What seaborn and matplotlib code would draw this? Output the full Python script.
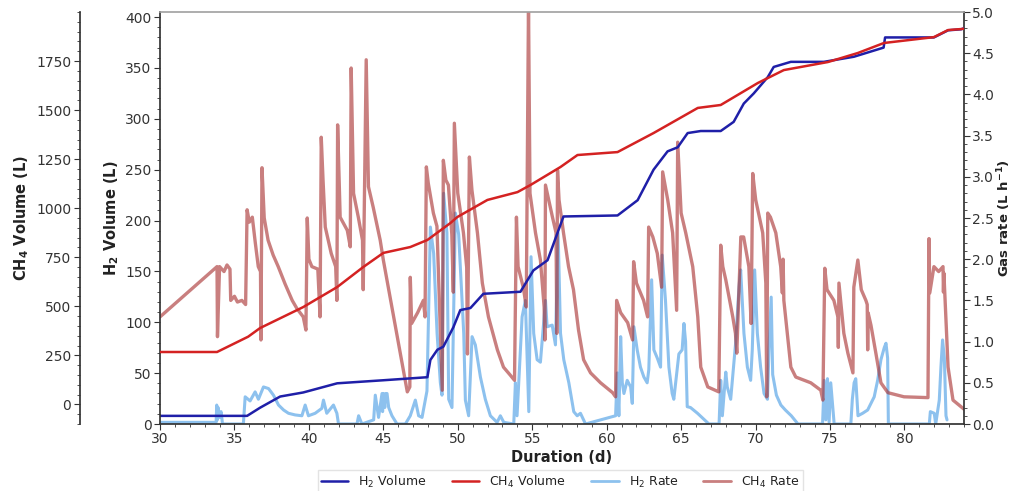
import matplotlib
matplotlib.use("Agg")
import matplotlib.pyplot as plt
import seaborn as sns
from matplotlib.ticker import MultipleLocator, AutoMinorLocator, FormatStrFormatter
from matplotlib.lines import Line2D

# ---------------- data ----------------
h2_vol_day = [30.0, 35.85, 36.72, 38.07, 39.62, 41.9, 45.0, 47.96, 48.16, 48.63,
              49.03, 49.7, 50.17, 50.85, 51.72, 54.21, 55.08, 56.03, 57.1, 60.73,
              62.08, 63.15, 64.09, 64.77, 65.44, 66.32, 67.66, 68.53, 69.21, 69.88,
              70.82, 71.22, 72.37, 74.59, 76.6, 78.6, 78.7, 81.98, 82.93, 83.8,
              84.0]
h2_vol = [8, 8, 16, 27, 31, 40, 43, 46, 63, 73,
          76, 95, 112, 114, 128, 130, 151, 161, 204, 205,
          220, 250, 268, 272, 286, 288, 288, 297, 315, 325,
          341, 351, 356, 356, 361, 370, 380, 380, 387, 388,
          389]

ch4_vol_day = [30.0, 33.83, 35.92, 36.72, 39.62, 41.9, 43.65, 45.0, 46.81, 47.96,
               49.5, 49.97, 51.99, 54.01, 54.88, 56.9, 58.04, 60.73, 63.15, 66.12,
               67.66, 70.15, 71.9, 74.86, 76.87, 78.62, 81.98, 82.93, 83.8, 84.0]
ch4_vol = [267, 267, 345, 389, 496, 598, 700, 772, 802, 838,
           924, 955, 1042, 1082, 1118, 1210, 1271, 1286, 1383, 1511,
           1526, 1638, 1704, 1745, 1791, 1842, 1872, 1908, 1913, 1915]

h2_rate_day = [30.0, 33.77, 33.81, 33.85, 33.9, 34.0, 34.1, 34.2, 35.6, 35.72,
               36.05, 36.39, 36.61, 36.95, 37.29, 37.62, 37.96, 38.3, 38.63, 39.08,
               39.53, 39.75, 39.97, 40.42, 40.87, 40.98, 41.2, 41.65, 41.88, 41.99,
               43.23, 43.34, 43.56, 44.35, 44.46, 44.68, 44.91, 44.95, 45.0, 45.1,
               45.15, 45.25, 45.36, 45.58, 45.92, 46.48, 46.81, 47.15, 47.37, 47.6,
               47.82, 47.93, 48.16, 48.38, 48.61, 48.83, 48.94, 49.05, 49.27, 49.39,
               49.61, 49.84, 50.06, 50.29, 50.4, 50.51, 50.73, 50.96, 51.18, 51.52,
               51.85, 52.19, 52.64, 52.86, 53.09, 53.76, 53.87, 53.98, 54.32, 54.54,
               54.77, 54.92, 55.1, 55.33, 55.55, 55.89, 56.0, 56.34, 56.56, 56.74,
               56.9, 57.12, 57.46, 57.79, 58.02, 58.24, 58.58, 60.6, 60.71, 60.82,
               60.94, 61.05, 61.16, 61.38, 61.61, 61.72, 61.83, 62.05, 62.27, 62.5,
               62.72, 62.83, 63.02, 63.17, 63.4, 63.62, 63.73, 63.95, 64.18, 64.4,
               64.51, 64.85, 65.07, 65.19, 65.3, 65.41, 65.63, 66.1, 66.87, 67.55,
               67.66, 67.77, 68.0, 68.1, 68.33, 68.66, 68.89, 69.0, 69.22, 69.45,
               69.67, 69.78, 69.94, 70.12, 70.34, 70.57, 70.8, 70.9, 71.05, 71.15,
               71.4, 71.7, 72.0, 72.4, 72.85, 74.5, 74.61, 74.72, 74.83, 74.94,
               75.05, 75.28, 76.4, 76.5, 76.62, 76.73, 76.88, 77.19, 77.53, 77.97,
               78.2, 78.42, 78.65, 78.76, 78.87, 78.92, 81.67, 81.74, 82.0, 82.1,
               82.34, 82.45, 82.56, 82.68, 82.79, 82.86]
h2_rate = [0.02, 0.02, 0.23, 0.05, 0.20, 0.08, 0.15, 0.00, 0.00, 0.33,
           0.28, 0.39, 0.30, 0.45, 0.43, 0.35, 0.23, 0.17, 0.13, 0.11,
           0.10, 0.23, 0.10, 0.13, 0.19, 0.29, 0.13, 0.23, 0.13, 0.00,
           0.00, 0.10, 0.00, 0.05, 0.35, 0.08, 0.37, 0.15, 0.37, 0.20,
           0.37, 0.37, 0.20, 0.10, 0.00, 0.00, 0.10, 0.29, 0.10, 0.08,
           0.29, 0.40, 2.39, 2.07, 1.10, 0.50, 0.35, 2.80, 2.32, 0.30,
           0.20, 2.56, 2.30, 1.50, 1.10, 0.29, 0.10, 1.06, 0.96, 0.57,
           0.30, 0.10, 0.02, 0.10, 0.02, 0.00, 0.50, 0.10, 1.30, 1.50,
           0.15, 2.03, 1.10, 0.78, 0.75, 1.50, 1.18, 1.20, 0.96, 2.32,
           1.10, 0.78, 0.50, 0.15, 0.10, 0.13, 0.00, 0.10, 0.62, 0.10,
           1.06, 0.50, 0.37, 0.53, 0.45, 0.25, 1.18, 0.90, 0.69, 0.57,
           0.50, 0.66, 1.75, 0.90, 0.80, 0.69, 2.05, 1.50, 0.69, 0.37,
           0.30, 0.85, 0.90, 1.22, 1.00, 0.21, 0.20, 0.13, 0.00, 0.00,
           0.53, 0.10, 0.63, 0.45, 0.30, 0.98, 1.67, 1.87, 1.10, 0.69,
           0.53, 0.90, 1.87, 1.10, 0.69, 0.37, 0.30, 0.90, 1.54, 0.60,
           0.35, 0.23, 0.17, 0.10, 0.00, 0.00, 0.53, 0.05, 0.55, 0.02,
           0.50, 0.00, 0.00, 0.30, 0.50, 0.55, 0.10, 0.13, 0.17, 0.33,
           0.53, 0.78, 0.93, 0.98, 0.80, 0.00, 0.00, 0.15, 0.13, 0.00,
           0.29, 0.69, 1.02, 0.80, 0.10, 0.05]

ch4_rate_day = [30.0, 33.83, 33.86, 34.0, 34.3, 34.5, 34.7, 34.75, 35.0, 35.2,
                35.5, 35.75, 35.85, 36.0, 36.2, 36.4, 36.6, 36.75, 36.78, 36.85,
                37.0, 37.26, 37.6, 37.94, 38.4, 38.88, 39.2, 39.62, 39.8, 39.89,
                40.0, 40.2, 40.6, 40.75, 40.83, 40.95, 41.1, 41.5, 41.8, 41.88,
                41.93, 42.1, 42.58, 42.78, 42.84, 43.0, 43.32, 43.6, 43.65, 43.85,
                44.0, 44.32, 44.79, 45.0, 46.61, 46.78, 46.81, 46.9, 47.3, 47.69,
                47.8, 47.89, 48.02, 48.36, 48.6, 48.96, 49.03, 49.2, 49.37, 49.6,
                49.7, 49.77, 50.0, 50.38, 50.6, 50.65, 50.78, 50.95, 51.32, 51.65,
                52.06, 52.66, 53.07, 53.54, 53.81, 53.94, 54.05, 54.41, 54.6, 54.75,
                54.85, 55.22, 55.55, 55.8, 55.85, 55.89, 56.36, 56.6, 56.65, 56.7,
                56.8, 57.1, 57.44, 57.77, 58.11, 58.45, 58.92, 59.59, 60.4, 60.6,
                60.67, 60.94, 61.41, 61.74, 61.81, 62.0, 62.48, 62.75, 62.82, 63.1,
                63.4, 63.69, 63.76, 64.1, 64.43, 64.7, 64.77, 65.0, 65.31, 65.78,
                66.12, 66.32, 66.79, 67.53, 67.66, 67.8, 68.0, 68.47, 68.65, 68.74,
                69.01, 69.2, 69.55, 69.7, 69.81, 70.01, 70.48, 70.69, 70.75, 70.82,
                71.0, 71.36, 71.69, 71.8, 71.85, 71.9, 72.37, 72.7, 73.71, 74.38,
                74.52, 74.65, 74.8, 75.26, 75.53, 75.56, 75.6, 75.93, 76.2, 76.54,
                76.6, 76.87, 77.1, 77.41, 77.5, 77.53, 77.56, 77.75, 78.08, 78.42,
                78.89, 79.97, 81.58, 81.65, 81.7, 81.98, 82.3, 82.59, 82.62, 82.65,
                82.93, 83.26, 83.8, 84.0]
ch4_rate = [1.30, 1.91, 1.06, 1.91, 1.85, 1.93, 1.88, 1.50, 1.55, 1.48,
            1.50, 1.45, 2.60, 2.45, 2.51, 2.20, 1.91, 1.85, 1.02, 3.11,
            2.50, 2.23, 2.05, 1.91, 1.70, 1.50, 1.40, 1.30, 1.14, 2.50,
            2.00, 1.91, 1.88, 1.30, 3.48, 2.96, 2.39, 2.07, 1.91, 1.50,
            3.63, 2.51, 2.35, 2.15, 4.32, 2.80, 2.51, 2.23, 1.63, 4.42,
            2.88, 2.63, 2.23, 1.99, 0.39, 0.45, 1.78, 1.22, 1.35, 1.50,
            1.30, 3.12, 2.92, 2.56, 2.40, 0.41, 3.20, 2.96, 2.90, 2.30,
            1.60, 3.65, 2.80, 2.32, 1.90, 0.85, 3.24, 2.84, 2.32, 1.71,
            1.30, 0.90, 0.69, 0.59, 0.53, 2.51, 1.91, 1.65, 1.42, 5.10,
            2.80, 2.32, 1.99, 1.42, 1.02, 2.90, 2.51, 2.32, 1.10, 3.08,
            2.72, 2.32, 1.91, 1.63, 1.14, 0.78, 0.62, 0.50, 0.38, 0.33,
            1.50, 1.35, 1.23, 1.02, 1.97, 1.71, 1.50, 1.30, 2.39, 2.27,
            2.07, 1.66, 3.06, 2.72, 2.32, 1.38, 3.42, 2.56, 2.32, 1.91,
            1.30, 0.69, 0.45, 0.39, 2.17, 1.91, 1.75, 1.30, 1.10, 0.86,
            2.27, 2.27, 1.91, 1.22, 3.04, 2.72, 2.32, 1.71, 0.33, 2.56,
            2.51, 2.32, 1.91, 1.59, 2.00, 1.50, 0.69, 0.57, 0.50, 0.41,
            0.29, 1.89, 1.63, 1.50, 1.30, 0.93, 1.71, 1.10, 0.86, 0.62,
            1.66, 1.99, 1.63, 1.50, 1.45, 0.90, 1.35, 1.20, 0.86, 0.50,
            0.38, 0.33, 0.32, 2.25, 1.59, 1.91, 1.85, 1.91, 1.60, 1.83,
            0.69, 0.29, 0.21, 0.18]

x_ticks = [30, 35, 40, 45, 50, 55, 60, 65, 70, 75, 80]
ch4_ticks = [0, 250, 500, 750, 1000, 1250, 1500, 1750]
series_labels = ["H$_2$ Volume", "CH$_4$ Volume", "H$_2$ Rate", "CH$_4$ Rate"]

# ---------------- styling ----------------
sns.set_theme(style="ticks")
plt.rcParams["font.family"] = ["DejaVu Sans"]
plt.rcParams.update({
    "xtick.major.size": 4, "ytick.major.size": 4,
    "xtick.minor.size": 2, "ytick.minor.size": 2,
    "xtick.major.width": 0.8, "ytick.major.width": 0.8,
    "xtick.minor.width": 0.6, "ytick.minor.width": 0.6,
    "xtick.major.pad": 2, "ytick.major.pad": 2,
    "axes.edgecolor": "#333333", "xtick.color": "#333333", "ytick.color": "#333333",
    "text.color": "#222222", "axes.labelcolor": "#222222",
})

c_h2v = "#1f1fa8"
c_ch4v = "#d42222"
c_h2r = "#2f8fe0"
c_ch4r = "#a52a2a"

fig = plt.figure(figsize=(10.13, 4.91), dpi=100)
ax = fig.add_axes([160 / 1013, 67 / 491, 804 / 1013, 412 / 491])   # H2 volume
ax2 = ax.twinx()                                                      # gas rate
ax3 = ax.twinx()                                                      # CH4 volume

ax2.set_zorder(1)
ax.set_zorder(2)
ax3.set_zorder(3)
ax.patch.set_visible(False)
ax3.patch.set_visible(False)

# rates
sns.lineplot(x=h2_rate_day, y=h2_rate, ax=ax2, color=c_h2r, alpha=0.55, lw=2.2,
             estimator=None, sort=False, legend=False)
sns.lineplot(x=ch4_rate_day, y=ch4_rate, ax=ax2, color=c_ch4r, alpha=0.6, lw=2.4,
             estimator=None, sort=False, legend=False)
# volumes
sns.lineplot(x=h2_vol_day, y=h2_vol, ax=ax, color=c_h2v, lw=1.8,
             estimator=None, sort=False, legend=False)
sns.lineplot(x=ch4_vol_day, y=ch4_vol, ax=ax3, color=c_ch4v, lw=1.8,
             estimator=None, sort=False, legend=False)

# limits
ax.set_xlim(30, 84)
ax.set_ylim(0, 405)
ax2.set_ylim(0, 5.0)
ax3.set_ylim(-100, 2000)

# ticks
ax.set_xticks(x_ticks)
ax.xaxis.set_minor_locator(AutoMinorLocator(5))
ax.yaxis.set_major_locator(MultipleLocator(50))
ax.yaxis.set_minor_locator(AutoMinorLocator(5))
ax2.yaxis.set_major_locator(MultipleLocator(0.5))
ax2.yaxis.set_minor_locator(AutoMinorLocator(5))
ax2.yaxis.set_major_formatter(FormatStrFormatter("%.1f"))
ax3.set_yticks(ch4_ticks)
ax3.yaxis.set_minor_locator(MultipleLocator(50))
for a in (ax, ax2, ax3):
    a.tick_params(which="both", labelsize=10)
ax.tick_params(axis="x", which="both", top=False)
ax2.tick_params(axis="x", which="both", bottom=False, labelbottom=False)
ax3.tick_params(axis="x", which="both", bottom=False, labelbottom=False)

# CH4 axis on an outer left spine
ax3.spines["left"].set_position(("axes", -0.1))
ax3.spines["left"].set_visible(True)
ax3.spines["right"].set_visible(False)
ax3.spines["top"].set_visible(False)
ax3.spines["bottom"].set_visible(False)
ax3.yaxis.set_ticks_position("left")
ax3.yaxis.set_label_position("left")

ax2.spines["left"].set_visible(False)
ax2.spines["top"].set_visible(False)
ax2.spines["bottom"].set_visible(False)
ax.spines["right"].set_visible(False)
ax.spines["top"].set_color("#a0a0a0")
ax.spines["top"].set_linewidth(1.2)

# labels
ax.set_xlabel("Duration (d)", fontsize=10.5, fontweight="bold", labelpad=3)
ax.set_ylabel(r"H$_\mathbf{2}$ Volume (L)", fontsize=10.5, fontweight="bold", labelpad=3)
ax2.set_ylabel(r"Gas rate (L h$^{\mathbf{-1}}$)", fontsize=9.5, fontweight="bold")
ax2.yaxis.set_label_coords(1.0495, 0.5)
ax2.yaxis.label.set_horizontalalignment("center")
ax2.yaxis.label.set_verticalalignment("center")
ax3.set_ylabel(r"CH$_\mathbf{4}$ Volume (L)", fontsize=10.5, fontweight="bold", labelpad=4)

# legend
handles = [Line2D([], [], color=c_h2v, lw=1.8),
           Line2D([], [], color=c_ch4v, lw=1.8),
           Line2D([], [], color=c_h2r, lw=2.0, alpha=0.55),
           Line2D([], [], color=c_ch4r, lw=2.0, alpha=0.6)]
fig.legend(handles, series_labels, loc="upper center", bbox_to_anchor=(0.553, 0.042),
           ncol=4, fontsize=9, frameon=True, fancybox=False, edgecolor="#dddddd",
           handlelength=2.2, columnspacing=2.0, borderpad=0.25, borderaxespad=0.0)

fig.savefig("out.png", dpi=100)
